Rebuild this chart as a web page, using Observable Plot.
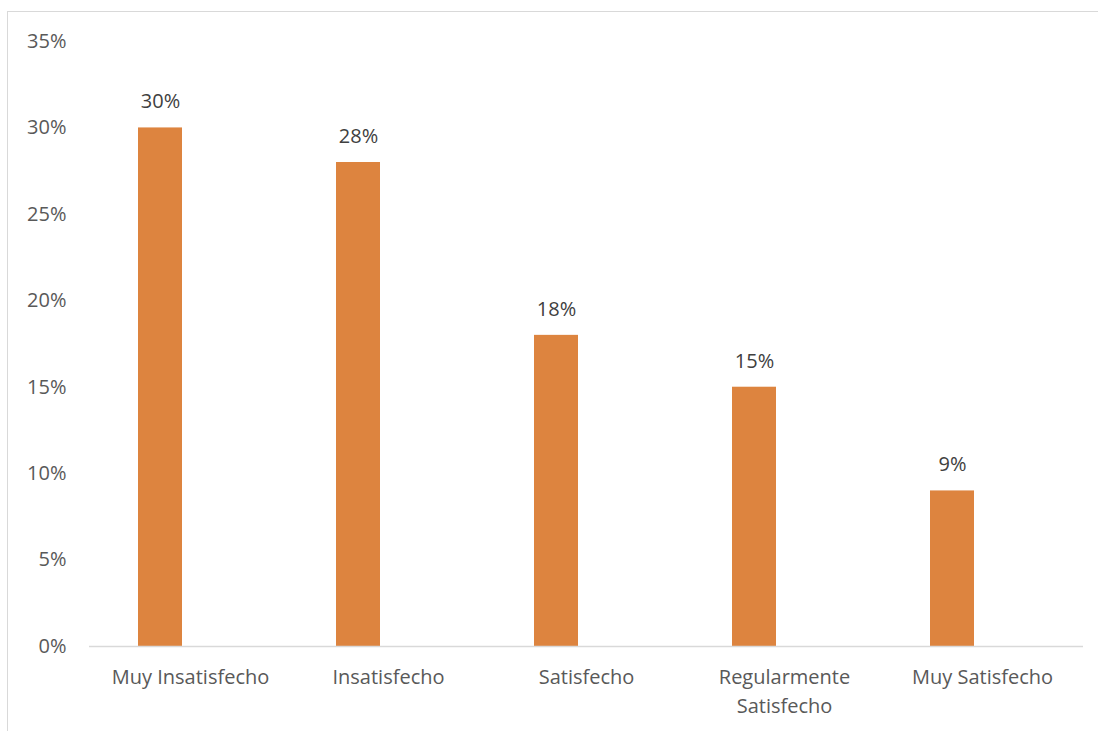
<!DOCTYPE html>
<html><head><meta charset="utf-8">
<script src="https://cdn.jsdelivr.net/npm/d3@7"></script>
<script src="https://cdn.jsdelivr.net/npm/@observablehq/plot@0.6"></script>
<style>
body{margin:0;background:#fff;}
#wrap{position:relative;width:1098px;height:731px;overflow:hidden;}
#border{position:absolute;left:7px;top:11px;width:1200px;height:800px;border-left:1.5px solid #d9d9d9;border-top:1.5px solid #d9d9d9;}
</style></head>
<body><div id="wrap"><div id="border"></div></div>
<script>
const categories = ["Muy Insatisfecho","Insatisfecho","Satisfecho","Regularmente\nSatisfecho","Muy Satisfecho"];
const values = [0.30,0.28,0.18,0.15,0.09];
const yTicks = [0,0.05,0.10,0.15,0.20,0.25,0.30,0.35];
const data = categories.map((c,i)=>({cat:c,v:values[i]}));
const font = "'Open Sans', sans-serif";
const fs = 20;
const chart = Plot.plot({
  width:1098, height:731,
  marginLeft:89, marginRight:15, marginTop:41, marginBottom:85,
  style:{fontFamily:font, fontSize:fs+"px", background:"transparent", overflow:"visible"},
  x:{domain:categories, paddingInner:0.78, paddingOuter:0.39},
  y:{domain:[0,0.35]},
  marks:[
    Plot.barY(data,{x:"cat",y:"v",fill:"#dd843f",dx:-30}),
    Plot.ruleY([0],{stroke:"#d9d9d9",strokeWidth:1.5}),
    Plot.text(data,{x:"cat",y:"v",text:d=>d3.format(".0%")(d.v),dx:-30,dy:-26,fill:"#404040",fontSize:fs}),
    Plot.axisY({ticks:yTicks,tickFormat:d3.format(".0%"),tickSize:0,tickPadding:23,fill:"#595959",fontSize:fs,label:null}),
    Plot.axisX({tickSize:0,tickPadding:17,fill:"#595959",fontSize:fs,lineHeight:1.45,label:null})
  ]
});
chart.style.position="absolute";chart.style.left="0";chart.style.top="0";
document.getElementById("wrap").appendChild(chart);
</script></body></html>
